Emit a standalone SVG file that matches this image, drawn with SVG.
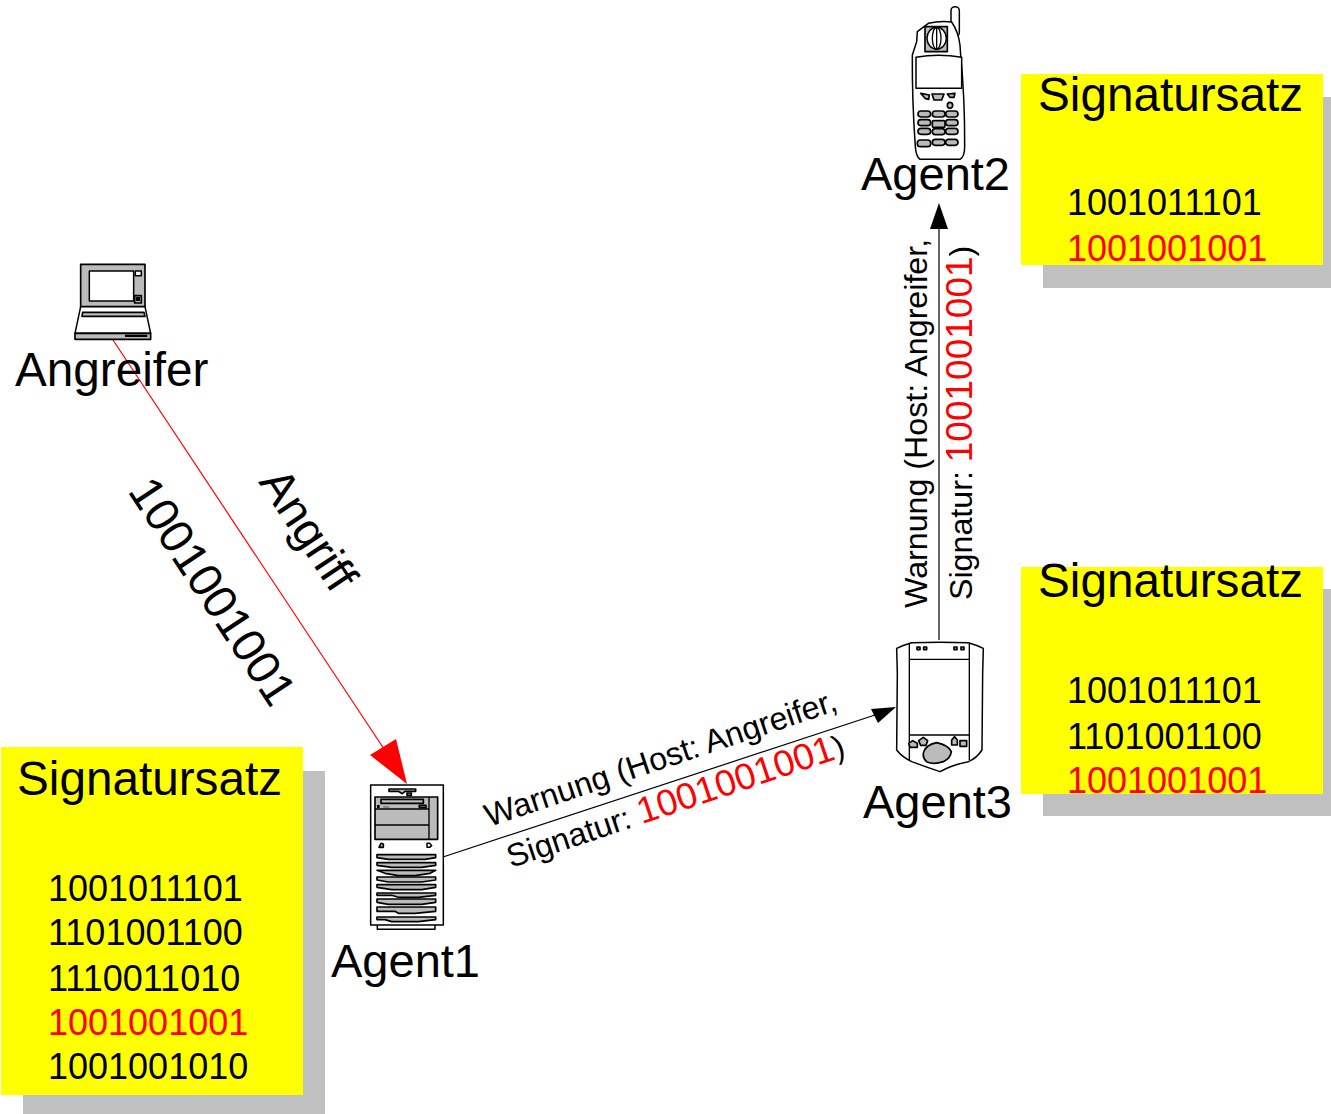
<svg xmlns="http://www.w3.org/2000/svg" width="1331" height="1114" viewBox="0 0 1331 1114">
<style>
text{font-family:"Liberation Sans",Arial,sans-serif;fill:#000}
.t{font-size:47.7px}
.a{font-size:47px}
.d{font-size:36px}
.m{font-size:32.2px}
.r{fill:#f00}
.big{font-size:37px}
.sh{fill:#c0c0c0}
.y{fill:#ff0}
.i{stroke:#000;stroke-width:4.5;fill:#fff;stroke-linejoin:round}
.g{stroke:#000;stroke-width:5;fill:#bbb;stroke-linejoin:round}
.k{fill:#000;stroke:none}
</style>
<rect width="1331" height="1114" fill="#fff"/>
<g id="set-agent2">
<rect class="sh" x="1043" y="97" width="288" height="191"/>
<rect class="y" x="1021" y="74" width="302" height="191"/>
<text class="t" x="1038" y="111">Signatursatz</text>
<text class="d" x="1067" y="215">1001011101</text>
<text class="d r" x="1067" y="261">1001001001</text>
</g>
<g id="set-agent3">
<rect class="sh" x="1043" y="589" width="288" height="227"/>
<rect class="y" x="1021" y="567" width="302" height="227"/>
<text class="t" x="1038" y="597">Signatursatz</text>
<text class="d" x="1067" y="703">1001011101</text>
<text class="d" x="1067" y="749">1101001100</text>
<text class="d r" x="1067" y="793">1001001001</text>
</g>
<g id="set-agent1">
<rect class="sh" x="23" y="771" width="302" height="343"/>
<rect class="y" x="1" y="747" width="302" height="348"/>
<text class="t" x="17" y="795">Signatursatz</text>
<text class="d" x="48" y="901">1001011101</text>
<text class="d" x="48" y="945">1101001100</text>
<text class="d" x="48" y="991">1110011010</text>
<text class="d r" x="48" y="1035">1001001001</text>
<text class="d" x="48" y="1079">1001001010</text>
</g>
<g id="connectors">
<line x1="113" y1="340" x2="390" y2="758" stroke="#f00" stroke-width="1.2"/>
<polygon points="407,784 370,755 396,739" fill="#f00"/>
<line x1="443" y1="857" x2="878" y2="714" stroke="#000" stroke-width="1.2"/>
<polygon points="896,707 871,709 878,723"/>
<line x1="939" y1="640" x2="939" y2="225" stroke="#000" stroke-width="1.2"/>
<polygon points="939,203 930,229 948,229"/>
</g>
<g id="attack-labels">
<text class="a" transform="translate(258,482) rotate(56.5)">Angriff</text>
<text class="a" transform="translate(127,491) rotate(56.5)">1001001001</text>
</g>
<g id="warn-1-3">
<text class="m" transform="translate(489,827) rotate(-18.5)">Warnung (Host: Angreifer,</text>
<text class="m" transform="translate(511,868) rotate(-18.5)">Signatur: <tspan class="big r">1001001001</tspan>)</text>
</g>
<g id="warn-3-2">
<text class="m" transform="translate(927,608) rotate(-90)">Warnung (Host: Angreifer,</text>
<text class="m" transform="translate(972,600) rotate(-90)">Signatur: <tspan class="big r">1001001001</tspan>)</text>
</g>
<g id="agent2">
<g transform="translate(890,0) scale(.3333)">
<rect class="i" x="183" y="20" width="25" height="90" rx="12"/>
<path class="i" d="M115,70Q150,62 185,66Q205,95 210,135L212,165Q225,300 224,440Q224,470 210,478L90,478Q78,470 76,440Q66,300 67,165L80,125L82,95Z"/>
<rect class="g" x="105" y="80" width="67" height="75"/>
<ellipse class="i" cx="140" cy="115" rx="29" ry="33"/>
<ellipse cx="140" cy="115" rx="13" ry="33" fill="none" stroke="#000" stroke-width="4"/>
<path d="M140,82V148" stroke="#000" stroke-width="4"/>
<path class="i" d="M78,172Q145,160 215,172L215,265L78,265Z"/>
<path class="g" d="M92,280L118,285L116,298L105,295Z"/>
<path class="g" d="M126,282H162L155,300H132Z"/>
<path class="g" d="M172,282L195,280L192,292L180,292Z"/>
<ellipse class="g" cx="180" cy="316" rx="8" ry="9"/>
<g id="phone-keys">
<rect class="g" x="84" y="333" width="38" height="18" rx="9"/><rect class="g" x="127" y="333" width="38" height="18" rx="9"/><rect class="g" x="167" y="333" width="37" height="18" rx="9"/>
<rect class="g" x="84" y="359" width="38" height="18" rx="9"/><rect class="g" x="127" y="362" width="38" height="20" rx="4"/><rect class="g" x="167" y="359" width="37" height="18" rx="9"/>
<rect class="g" x="84" y="385" width="38" height="18" rx="9"/><rect class="g" x="127" y="386" width="38" height="18" rx="9"/><rect class="g" x="167" y="385" width="37" height="18" rx="9"/>
<rect class="g" x="82" y="420" width="40" height="20" rx="9"/><rect class="g" x="127" y="418" width="38" height="18" rx="9"/><rect class="g" x="167" y="418" width="37" height="18" rx="9"/>
</g>
</g>
<text class="a" x="861" y="190">Agent2</text>
</g>
<g id="angreifer">
<g transform="translate(60,255) scale(.3333)">
<rect class="g" x="62" y="28" width="193" height="127"/>
<rect class="i" x="88" y="48" width="133" height="90"/>
<rect class="i" x="226" y="48" width="18" height="14"/>
<rect class="g" x="224" y="122" width="20" height="22"/>
<rect class="k" x="228" y="126" width="12" height="12"/>
<path class="i" d="M62,155H255L272,235H45Z"/>
<path class="g" d="M68,172H252L255,184H66Z"/>
<rect class="g" x="45" y="235" width="227" height="18"/>
<rect class="k" x="195" y="239" width="67" height="7"/>
</g>
<text class="t" x="15" y="386">Angreifer</text>
</g>
<g id="agent1">
<g transform="translate(355,740) scale(.3333)">
<rect class="i" x="67" y="545" width="173" height="23"/>
<rect class="i" x="47" y="135" width="218" height="420"/>
<path class="g" d="M102,147H182V154H150L142,161L130,154H102Z"/>
<rect class="g" x="156" y="159" width="13" height="7"/>
<rect class="g" x="60" y="171" width="188" height="127"/>
<path d="M222,171V298M60,207H222M60,255H222" stroke="#000" stroke-width="4"/>
<rect class="g" x="78" y="178" width="127" height="12"/>
<rect class="k" x="66" y="195" width="8" height="9"/>
<rect class="g" x="193" y="196" width="20" height="7"/>
<path d="M85,201H103" stroke="#555" stroke-width="3"/>
<path class="g" d="M72,322L78,310L85,312V322Z"/>
<path class="i" d="M216,310H224L230,317L224,322H216Z"/>
<path class="g" d="M66,344H242V353L210,358H100L66,353Z"/>
<path class="g" d="M66,368H242V376L200,382H110L66,376Z"/>
<path class="g" d="M66,391H242L225,400L180,407H130L90,400Z"/>
<path class="g" d="M66,411H242V420L200,426H100L66,420Z"/>
<path class="g" d="M66,434H242V442L200,449H110L66,442Z"/>
<path class="g" d="M66,459H242V466L190,472H130L110,466H66Z"/>
<path class="g" d="M66,477H242V487L200,493H100L66,487Z"/>
<path class="g" d="M66,501H242V514L180,520H130L120,514H66Z"/>
<path class="g" d="M66,531H242V539L190,545H110L90,539H66Z"/>
</g>
<text class="a" x="331" y="977">Agent1</text>
</g>
<g id="agent3">
<g transform="translate(880,630) scale(.3333)">
<path class="i" d="M50,55Q70,45 95,38Q180,35 265,38Q290,45 310,55L308,130L306,360Q290,385 265,395Q215,405 180,425Q140,412 95,395Q65,380 50,360L52,130Z"/>
<path d="M88,38V390M268,38V390M88,88H268M88,315H268" stroke="#000" stroke-width="4" fill="none"/>
<rect class="g" x="111" y="51" width="9" height="8"/><rect class="g" x="131" y="51" width="9" height="8"/>
<rect class="g" x="222" y="51" width="9" height="8"/><rect class="g" x="243" y="51" width="9" height="8"/>
<path class="g" d="M86,340L98,332L112,340V352H90Z"/>
<path class="g" d="M116,332L130,322L143,332L138,346H122Z"/>
<path class="g" d="M215,330L224,320L232,330V345H215Z"/>
<rect class="g" x="240" y="332" width="20" height="17"/>
<path class="g" d="M130,370Q135,345 170,338Q205,345 214,365Q212,385 190,395Q160,405 140,395Q128,385 130,370Z"/>
</g>
<text class="a" x="863" y="818">Agent3</text>
</g>
</svg>
